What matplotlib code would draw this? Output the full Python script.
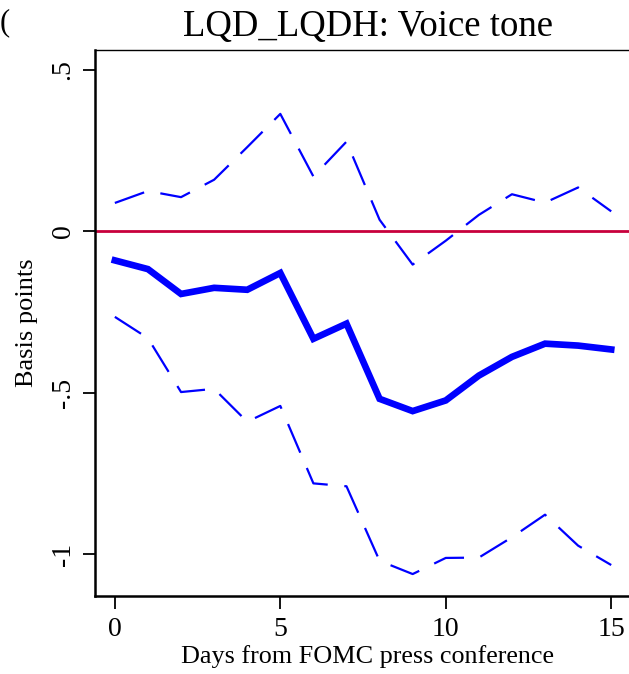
import numpy as np
import matplotlib
matplotlib.use('Agg')
import matplotlib.pyplot as plt

plt.rcParams['font.family'] = ['Liberation Serif', 'DejaVu Serif']

# datos
dias = np.arange(16)
media = [-0.090, -0.117, -0.194, -0.175, -0.181, -0.129, -0.333, -0.286,
         -0.519, -0.557, -0.524, -0.447, -0.389, -0.348, -0.354, -0.366]
sup = [0.088, 0.125, 0.106, 0.160, 0.261, 0.364, 0.170, 0.278,
       0.036, -0.103, -0.029, 0.051, 0.115, 0.089, 0.136, 0.062]
inf = [-0.265, -0.331, -0.498, -0.488, -0.590, -0.541, -0.781, -0.790,
       -1.021, -1.062, -1.012, -1.011, -0.948, -0.878, -0.974, -1.034]
yticks = [0.5, 0, -0.5, -1]
yticklabels = ['.5', '0', '-.5', '-1']
xticks = [0, 5, 10, 15]

fig = plt.figure(figsize=(6.29, 6.74), dpi=100)
# el eje sale por la derecha de la figura (recortado como en la imagen)
ax = fig.add_axes([95/629, 78/674, 545/629, 546/674])

ax.axhline(0, color='#C8003C', lw=2.0, zorder=1)
ax.plot(dias, sup, color='#0000FF', lw=1.6, dashes=(14, 7.5), zorder=2)
ax.plot(dias, inf, color='#0000FF', lw=1.6, dashes=(14, 7.5), zorder=2)
ax.plot(dias, media, color='#0000FF', lw=4.8, solid_joinstyle='miter', zorder=3)

ax.set_xlim(-0.6, 15.87)
ax.set_ylim(-1.13, 0.562)

ax.set_xticks(xticks)
ax.set_xticklabels([str(t) for t in xticks])
ax.set_yticks(yticks)
ax.set_yticklabels(yticklabels, rotation=90, va='center')

ax.tick_params(axis='both', length=9, width=1.3, labelsize=20, color='black')
ax.tick_params(axis='x', pad=6)
ax.tick_params(axis='y', pad=5)

for s in ['left', 'bottom']:
    ax.spines[s].set_linewidth(1.8)
ax.spines['top'].set_linewidth(1.0)
ax.spines['right'].set_linewidth(1.0)

ax.set_title('LQD_LQDH: Voice tone', fontsize=26.5, pad=10)
ax.set_xlabel('Days from FOMC press conference', fontsize=18.8, labelpad=2)
ax.set_ylabel('Basis points', fontsize=19)
ax.yaxis.set_label_coords(-0.104, 0.5)

fig.text(0.0, 0.955, '(', fontsize=22)

fig.savefig('out.png', dpi=100)
